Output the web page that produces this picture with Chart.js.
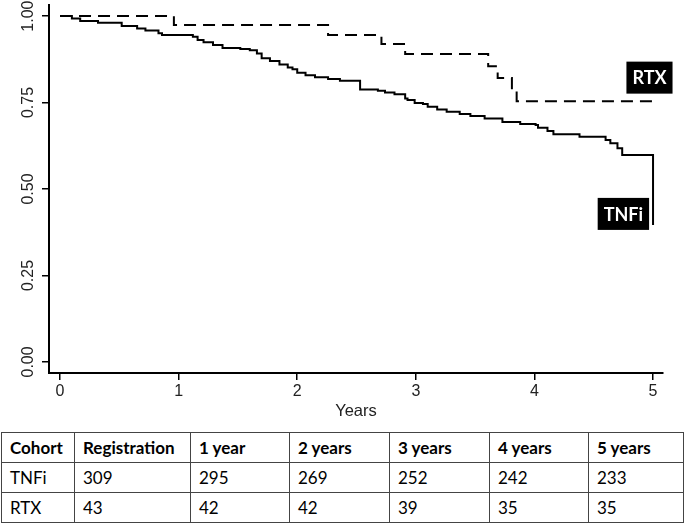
<!DOCTYPE html>
<html>
<head>
<meta charset="utf-8">
<script src="https://cdn.jsdelivr.net/npm/chart.js@4/dist/chart.umd.min.js"></script>
<style>
  html, body { margin: 0; padding: 0; background: #fff; }
  body { width: 684px; height: 525px; position: relative; overflow: hidden; }
  #chartBox { position: absolute; left: 0; top: 0; width: 684px; height: 425px; }
  #riskTable {
    position: absolute; left: 1px; top: 432px;
    border-collapse: collapse; table-layout: fixed;
    font-family: Lato, "Open Sans", sans-serif; font-size: 17px; color: #000;
  }
  #riskTable td, #riskTable th {
    border: 1px solid #444; height: 30px; padding: 0 0 0 8px;
    text-align: left; white-space: nowrap; box-sizing: border-box;
  }
  #riskTable th { font-weight: bold; }
</style>
</head>
<body>
<div id="chartBox"><canvas id="km"></canvas></div>
<table id="riskTable"></table>
<script>
// survival curves (year of the drop, value after it)
const tnfiYears = [0, 0.10, 0.17, 0.32, 0.52, 0.65, 0.72, 0.83, 0.86, 1.12, 1.16, 1.21, 1.29, 1.37,
  1.52, 1.60, 1.66, 1.70, 1.77, 1.85, 1.92, 1.96, 2.00, 2.07, 2.15, 2.26, 2.36, 2.53, 2.68, 2.74,
  2.82, 2.91, 2.93, 2.99, 3.06, 3.10, 3.18, 3.26, 3.37, 3.46, 3.58, 3.73, 3.88, 4.01, 4.03, 4.11,
  4.16, 4.38, 4.60, 4.64, 4.70, 4.74, 5.00, 5.00];
const tnfiSurvival = [1.000, 0.993, 0.986, 0.981, 0.971, 0.964, 0.958, 0.950, 0.945, 0.940, 0.931,
  0.924, 0.916, 0.908, 0.905, 0.901, 0.892, 0.878, 0.870, 0.860, 0.851, 0.846, 0.836, 0.829, 0.823,
  0.818, 0.813, 0.788, 0.784, 0.779, 0.774, 0.762, 0.757, 0.749, 0.746, 0.738, 0.730, 0.723, 0.717,
  0.711, 0.704, 0.694, 0.688, 0.685, 0.677, 0.668, 0.658, 0.651, 0.642, 0.632, 0.618, 0.598, 0.598,
  0.396];
const rtxYears = [0, 0.96, 2.26, 2.71, 2.91, 3.61, 3.69, 3.81, 3.85, 5.00];
const rtxSurvival = [1.000, 0.974, 0.945, 0.919, 0.890, 0.855, 0.821, 0.786, 0.754, 0.754];

const xTicks = [0, 1, 2, 3, 4, 5];
const yTicks = [0, 0.25, 0.5, 0.75, 1];

// numbers at risk
const tableHeader = ['Cohort', 'Registration', '1 year', '2 years', '3 years', '4 years', '5 years'];
const cohorts = ['TNFi', 'RTX'];
const tnfiAtRisk = [309, 295, 269, 252, 242, 233];
const rtxAtRisk = [43, 42, 42, 39, 35, 35];

function toPoints(xs, ys) {
  return xs.map((x, i) => ({ x: x, y: ys[i] }));
}

// rotated y labels like base R, plus the black name boxes
const extras = {
  id: 'extras',
  afterDraw(chart) {
    const ctx = chart.ctx;
    const ys = chart.scales.y;
    const xs = chart.scales.x;
    ctx.save();
    ctx.fillStyle = '#222';
    ctx.font = '16px "Liberation Sans", Arial, sans-serif';
    ctx.textAlign = 'center';
    ctx.textBaseline = 'middle';
    yTicks.forEach(v => {
      const py = ys.getPixelForValue(v);
      ctx.save();
      ctx.translate(29, py);
      ctx.rotate(-Math.PI / 2);
      ctx.fillText(v.toFixed(2), 0, 0);
      ctx.restore();
    });
    const boxes = [
      { text: 'RTX', x: 4.97, y: 0.822 },
      { text: 'TNFi', x: 4.75, y: 0.428 }
    ];
    ctx.font = 'bold 18px Lato, "Open Sans", sans-serif';
    boxes.forEach(b => {
      const cx = xs.getPixelForValue(b.x);
      const cy = ys.getPixelForValue(b.y);
      const w = ctx.measureText(b.text).width + 12;
      const h = 32;
      ctx.fillStyle = '#000';
      ctx.fillRect(cx - w / 2, cy - h / 2, w, h);
      ctx.fillStyle = '#fff';
      ctx.fillText(b.text, cx, cy + 1);
    });
    ctx.restore();
  }
};

new Chart(document.getElementById('km'), {
  type: 'line',
  data: {
    datasets: [
      {
        label: 'TNFi',
        data: toPoints(tnfiYears, tnfiSurvival),
        borderColor: '#000',
        borderWidth: 2,
        stepped: true,
        pointRadius: 0,
        fill: false
      },
      {
        label: 'RTX',
        data: toPoints(rtxYears, rtxSurvival),
        borderColor: '#000',
        borderWidth: 2,
        borderDash: [12, 7],
        stepped: true,
        pointRadius: 0,
        fill: false
      }
    ]
  },
  options: {
    responsive: true,
    maintainAspectRatio: false,
    animation: false,
    layout: { padding: { left: 0, top: 5, right: 21, bottom: 0 } },
    plugins: { legend: { display: false }, tooltip: { enabled: false } },
    scales: {
      x: {
        type: 'linear',
        min: -0.093,
        max: 5.084,
        afterBuildTicks: s => { s.ticks = xTicks.map(v => ({ value: v })); },
        afterFit: s => { s.height = 52; },
        grid: { drawOnChartArea: false, drawTicks: true, tickLength: 7, color: '#000', lineWidth: 1.5 },
        border: { display: true, color: '#000', width: 2 },
        ticks: {
          color: '#222', padding: 2, maxRotation: 0,
          font: { family: '"Liberation Sans", Arial, sans-serif', size: 16 }
        },
        title: {
          display: true, text: 'Years', color: '#222',
          font: { family: '"Liberation Sans", Arial, sans-serif', size: 16.5 },
          padding: { top: 0, bottom: 4 }
        }
      },
      y: {
        type: 'linear',
        min: -0.032,
        max: 1.032,
        afterBuildTicks: s => { s.ticks = yTicks.map(v => ({ value: v })); },
        afterFit: s => { s.width = 49; },
        grid: { drawOnChartArea: false, drawTicks: true, tickLength: 7, color: '#000', lineWidth: 1.5 },
        border: { display: true, color: '#000', width: 2 },
        ticks: { display: false }
      }
    }
  },
  plugins: [extras]
});

// table of numbers at risk
const colWidths = [73, 116, 99, 100, 100, 99, 95];
const table = document.getElementById('riskTable');
const cg = document.createElement('colgroup');
colWidths.forEach(w => {
  const c = document.createElement('col');
  c.style.width = w + 'px';
  cg.appendChild(c);
});
table.appendChild(cg);
const head = document.createElement('tr');
tableHeader.forEach(t => {
  const th = document.createElement('th');
  th.textContent = t;
  head.appendChild(th);
});
table.appendChild(head);
[tnfiAtRisk, rtxAtRisk].forEach((row, i) => {
  const tr = document.createElement('tr');
  [cohorts[i]].concat(row).forEach(v => {
    const td = document.createElement('td');
    td.textContent = v;
    tr.appendChild(td);
  });
  table.appendChild(tr);
});
</script>
</body>
</html>
